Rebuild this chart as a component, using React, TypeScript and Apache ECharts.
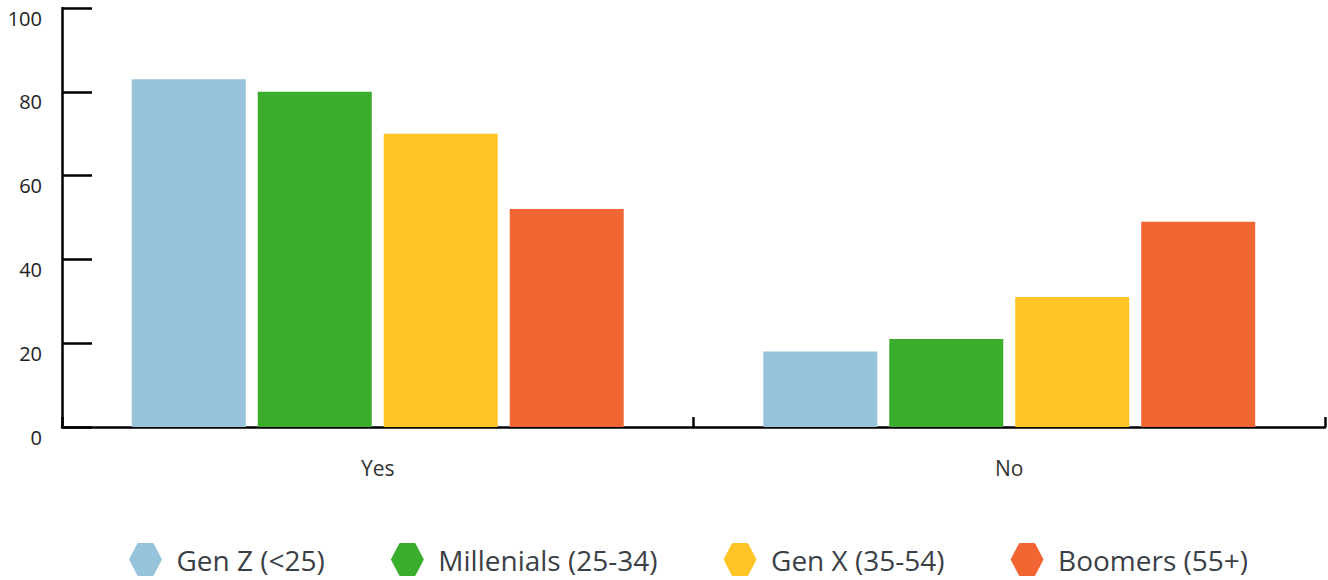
import React, { useEffect, useRef } from "react";
import * as echarts from "echarts";

const categories = ["Yes", "No"];
const seriesNames = ["Gen Z (<25)", "Millenials (25-34)", "Gen X (35-54)", "Boomers (55+)"];
const genZ = [83, 18];
const millenials = [80, 21];
const genX = [70, 31];
const boomers = [52, 49];
const colors = ["#97c4da", "#3bad2d", "#ffc527", "#f26633"];
const yTicks = [0, 20, 40, 60, 80, 100];

const hex = "path://M0,50 L25,2 Q26,0 28,0 L72,0 Q74,0 75,2 L100,50 L75,98 Q74,100 72,100 L28,100 Q26,100 25,98 Z";

export default function App() {
  const ref = useRef<HTMLDivElement>(null);
  useEffect(() => {
    const chart = echarts.init(ref.current!, undefined, { renderer: "svg" });
    const data = [genZ, millenials, genX, boomers];
    chart.setOption({
      animation: false,
      textStyle: { fontFamily: "'Open Sans', sans-serif" },
      grid: { left: 62, right: 3, top: 8, bottom: 153, containLabel: false },
      legend: {
        top: 538,
        left: 124,
        itemWidth: 36,
        itemHeight: 33,
        itemGap: 66,
        icon: hex,
        textStyle: { fontSize: 28, color: "#3b4046", padding: [0, 0, 0, 8] },
        data: seriesNames,
      },
      xAxis: {
        type: "category",
        data: categories,
        axisLine: { show: true, lineStyle: { color: "#000", width: 2.5 } },
        axisTick: { show: true, inside: true, interval: 0, alignWithLabel: false, length: 10, lineStyle: { color: "#000", width: 2.5 } },
        axisLabel: { margin: 30, fontSize: 21, color: "#333" },
      },
      yAxis: {
        type: "value",
        min: yTicks[0],
        max: yTicks[yTicks.length - 1],
        interval: 20,
        axisLine: { show: true, lineStyle: { color: "#000", width: 2.5 } },
        axisTick: { show: true, inside: true, length: 30, lineStyle: { color: "#000", width: 2.5 } },
        splitLine: { show: false },
        axisLabel: { margin: 20, fontSize: 20, color: "#222", verticalAlign: "top", lineHeight: 20 },
      },
      series: seriesNames.map((name, i) => ({
        name,
        type: "bar",
        data: data[i],
        barWidth: 114,
        barGap: "10.5%",
        itemStyle: { color: colors[i] },
      })),
    });
    return () => chart.dispose();
  }, []);
  return <div ref={ref} style={{ width: 1328, height: 580, position: "absolute", left: 0, top: 0 }} />;
}
